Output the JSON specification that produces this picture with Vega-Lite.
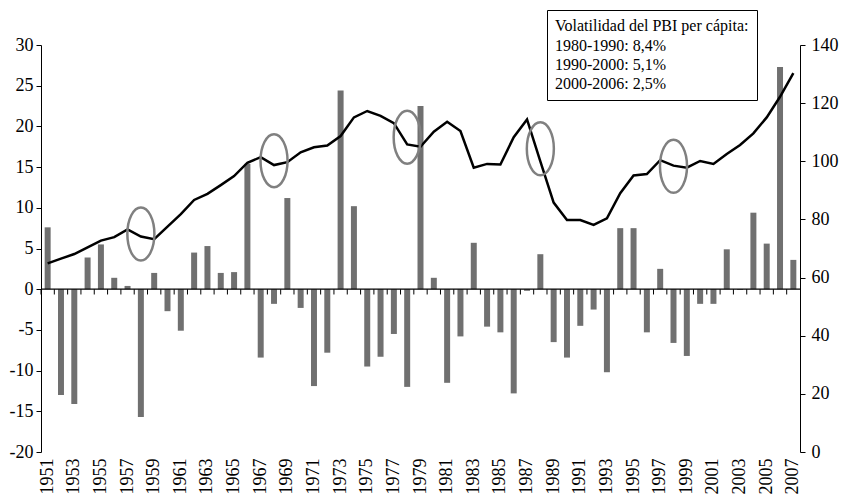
{
  "$schema": "https://vega.github.io/schema/vega-lite/v6.json",
  "width": 759,
  "height": 407,
  "autosize": {"type": "none"},
  "padding": {"left": 41, "top": 45, "right": 43, "bottom": 45},
  "background": "white",
  "config": {
    "view": {"stroke": null},
    "font": "Liberation Serif",
    "axis": {
      "labelFont": "Liberation Serif",
      "labelFontSize": 18,
      "labelColor": "black",
      "domainColor": "black",
      "tickColor": "black",
      "domainWidth": 1,
      "tickWidth": 1,
      "grid": false,
      "title": null
    },
    "axisX": {
      "orient": "bottom",
      "domain": false,
      "ticks": false,
      "labelAngle": 270,
      "labelPadding": 6,
      "labelOverlap": false,
      "labelExpr": "datum.value % 2 == 1 ? datum.label : ''"
    }
  },
  "datasets": {
    "serie": [
      {"anio": 1951, "variacion": 7.6, "pbi": 64.9},
      {"anio": 1952, "variacion": -13.0, "pbi": 66.5},
      {"anio": 1953, "variacion": -14.1, "pbi": 68.1},
      {"anio": 1954, "variacion": 3.9, "pbi": 70.4},
      {"anio": 1955, "variacion": 5.5, "pbi": 72.7},
      {"anio": 1956, "variacion": 1.4, "pbi": 73.9},
      {"anio": 1957, "variacion": 0.4, "pbi": 76.6},
      {"anio": 1958, "variacion": -15.7, "pbi": 74.1},
      {"anio": 1959, "variacion": 2.0, "pbi": 73.2},
      {"anio": 1960, "variacion": -2.7, "pbi": 77.5},
      {"anio": 1961, "variacion": -5.1, "pbi": 81.8},
      {"anio": 1962, "variacion": 4.5, "pbi": 86.7},
      {"anio": 1963, "variacion": 5.3, "pbi": 88.8},
      {"anio": 1964, "variacion": 2.0, "pbi": 91.8},
      {"anio": 1965, "variacion": 2.1, "pbi": 94.9},
      {"anio": 1966, "variacion": 15.4, "pbi": 99.5},
      {"anio": 1967, "variacion": -8.4, "pbi": 101.4},
      {"anio": 1968, "variacion": -1.8, "pbi": 98.7},
      {"anio": 1969, "variacion": 11.2, "pbi": 99.7},
      {"anio": 1970, "variacion": -2.3, "pbi": 103.1},
      {"anio": 1971, "variacion": -11.9, "pbi": 104.8},
      {"anio": 1972, "variacion": -7.8, "pbi": 105.4},
      {"anio": 1973, "variacion": 24.4, "pbi": 108.7},
      {"anio": 1974, "variacion": 10.2, "pbi": 115.1},
      {"anio": 1975, "variacion": -9.5, "pbi": 117.3},
      {"anio": 1976, "variacion": -8.3, "pbi": 115.6},
      {"anio": 1977, "variacion": -5.5, "pbi": 113.1},
      {"anio": 1978, "variacion": -12.0, "pbi": 105.8},
      {"anio": 1979, "variacion": 22.5, "pbi": 105.0},
      {"anio": 1980, "variacion": 1.4, "pbi": 110.2},
      {"anio": 1981, "variacion": -11.5, "pbi": 113.6},
      {"anio": 1982, "variacion": -5.8, "pbi": 110.4},
      {"anio": 1983, "variacion": 5.7, "pbi": 97.8},
      {"anio": 1984, "variacion": -4.6, "pbi": 99.1},
      {"anio": 1985, "variacion": -5.3, "pbi": 98.9},
      {"anio": 1986, "variacion": -12.8, "pbi": 108.3},
      {"anio": 1987, "variacion": -0.2, "pbi": 114.4},
      {"anio": 1988, "variacion": 4.3, "pbi": 100.0},
      {"anio": 1989, "variacion": -6.5, "pbi": 85.8},
      {"anio": 1990, "variacion": -8.4, "pbi": 79.8},
      {"anio": 1991, "variacion": -4.5, "pbi": 79.8},
      {"anio": 1992, "variacion": -2.5, "pbi": 78.1},
      {"anio": 1993, "variacion": -10.2, "pbi": 80.4},
      {"anio": 1994, "variacion": 7.5, "pbi": 89.0},
      {"anio": 1995, "variacion": 7.5, "pbi": 95.1},
      {"anio": 1996, "variacion": -5.3, "pbi": 95.6},
      {"anio": 1997, "variacion": 2.5, "pbi": 100.4},
      {"anio": 1998, "variacion": -6.6, "pbi": 98.5},
      {"anio": 1999, "variacion": -8.2, "pbi": 97.8},
      {"anio": 2000, "variacion": -1.8, "pbi": 100.1},
      {"anio": 2001, "variacion": -1.8, "pbi": 99.1},
      {"anio": 2002, "variacion": 4.9, "pbi": 102.5},
      {"anio": 2003, "variacion": -0.1, "pbi": 105.6},
      {"anio": 2004, "variacion": 9.4, "pbi": 109.6},
      {"anio": 2005, "variacion": 5.6, "pbi": 115.1},
      {"anio": 2006, "variacion": 27.3, "pbi": 122.2},
      {"anio": 2007, "variacion": 3.6, "pbi": 130.3}
    ],
    "elipses": [
      {"anio": 1958, "pbi": 75.0},
      {"anio": 1968, "pbi": 100.2},
      {"anio": 1978, "pbi": 108.3},
      {"anio": 1988, "pbi": 104.3},
      {"anio": 1998, "pbi": 98.3}
    ],
    "cero": [
      {"linea": "cero", "valor": 0}
    ],
    "volatilidad": [
      {"linea": "1980-1990: 8,4%"},
      {"linea": "1990-2000: 5,1%"},
      {"linea": "2000-2006: 2,5%"}
    ]
  },
  "layer": [
    {
      "layer": [
        {
          "data": {"name": "serie"},
          "mark": {"type": "bar", "color": "#707070"},
          "encoding": {
            "x": {
              "field": "anio",
              "type": "ordinal",
              "scale": {"paddingInner": 0.55, "paddingOuter": 0.275}
            },
            "y": {
              "field": "variacion",
              "type": "quantitative",
              "scale": {"domain": [-20, 30], "nice": false, "zero": false},
              "axis": {
                "orient": "left",
                "values": [-20, -15, -10, -5, 0, 5, 10, 15, 20, 25, 30],
                "labelExpr": "'' + datum.value",
                "tickSize": 5,
                "labelPadding": 3
              }
            }
          }
        },
        {
          "data": {"name": "serie"},
          "mark": {"type": "rule", "color": "black", "strokeWidth": 1, "xOffset": -6.658},
          "encoding": {
            "x": {"field": "anio", "type": "ordinal"},
            "y": {"datum": 0},
            "y2": {"datum": -0.65}
          }
        },
        {
          "data": {"name": "cero"},
          "mark": {"type": "rule", "color": "black", "strokeWidth": 1.3},
          "encoding": {
            "y": {"field": "valor", "type": "quantitative"}
          }
        }
      ]
    },
    {
      "layer": [
        {
          "data": {"name": "serie"},
          "mark": {"type": "line", "color": "black", "strokeWidth": 2.5, "strokeJoin": "miter"},
          "encoding": {
            "x": {"field": "anio", "type": "ordinal"},
            "y": {
              "field": "pbi",
              "type": "quantitative",
              "scale": {"domain": [0, 140], "nice": false},
              "axis": {
                "orient": "right",
                "values": [0, 20, 40, 60, 80, 100, 120, 140],
                "tickSize": 5,
                "labelPadding": 6
              }
            }
          }
        },
        {
          "data": {"name": "elipses"},
          "mark": {
            "type": "point",
            "shape": "M -0.51,0 A 0.51,1 0 1,0 0.51,0 A 0.51,1 0 1,0 -0.51,0 Z",
            "size": 2809,
            "filled": false,
            "stroke": "#808080",
            "strokeWidth": 2.5,
            "opacity": 1
          },
          "encoding": {
            "x": {"field": "anio", "type": "ordinal"},
            "y": {
              "field": "pbi",
              "type": "quantitative",
              "axis": {
                "orient": "right",
                "values": [0, 20, 40, 60, 80, 100, 120, 140],
                "tickSize": 5,
                "labelPadding": 6
              }
            }
          }
        }
      ]
    },
    {
      "data": {"name": "volatilidad"},
      "mark": {"type": "point", "opacity": 0},
      "encoding": {
        "color": {
          "field": "linea",
          "type": "nominal",
          "scale": {
            "domain": ["1980-1990: 8,4%", "1990-2000: 5,1%", "2000-2006: 2,5%"],
            "range": ["black", "black", "black"]
          },
          "legend": {
            "title": "Volatilidad del PBI per cápita:",
            "orient": "none",
            "legendX": 506,
            "legendY": -35,
            "padding": 8,
            "strokeColor": "black",
            "fillColor": "white",
            "titleFont": "Liberation Serif",
            "titleFontWeight": "normal",
            "titleFontSize": 16,
            "titleColor": "black",
            "titlePadding": 4,
            "titleLimit": 400,
            "labelFont": "Liberation Serif",
            "labelFontSize": 16,
            "labelColor": "black",
            "labelOffset": -16,
            "symbolSize": 0,
            "symbolStrokeWidth": 0,
            "symbolOpacity": 0,
            "rowPadding": 3,
            "labelLimit": 300
          }
        }
      }
    }
  ],
  "resolve": {"scale": {"y": "independent"}}
}
